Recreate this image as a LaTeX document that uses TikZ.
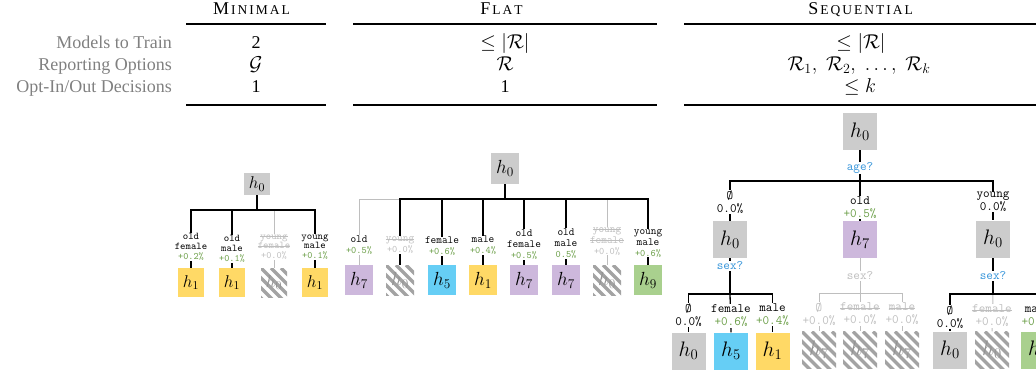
\RequirePackage{fix-cm}
\documentclass[tikz,border=0pt]{standalone}
\usepackage{fontspec}
\setmainfont{Liberation Serif}
\usetikzlibrary{backgrounds}

\definecolor{boxgray}{RGB}{204,204,204}
\definecolor{boxyellow}{RGB}{255,217,102}
\definecolor{boxpurple}{RGB}{205,184,220}
\definecolor{boxblue}{RGB}{102,206,245}
\definecolor{boxgreen}{RGB}{169,208,142}
\definecolor{gaingreen}{RGB}{106,158,70}
\definecolor{askblue}{RGB}{52,148,218}
\definecolor{offgray}{RGB}{190,190,190}
\definecolor{rowgray}{RGB}{128,128,128}

% struck-through word
\newcommand{\strk}[1]{\leavevmode\setbox0\hbox{#1}\rlap{\rule[0.22em]{\wd0}{0.5pt}}\box0}
% letter-spaced small capitals
\def\tracked#1{\ifx#1\relax\else\kern2pt#1\expandafter\tracked\fi}
\newcommand{\capsc}[2]{{\fontsize{18}{18}\selectfont #1}{\fontsize{13.5}{18}\selectfont\tracked#2\relax}}
% accuracy gains
\newcommand{\gainm}[1]{{\fontsize{9.8}{9.8}\selectfont\color{gaingreen}#1}}
\newcommand{\gainf}[1]{{\fontsize{9.9}{10.5}\selectfont\color{gaingreen}#1}}
\newcommand{\gains}[1]{{\color{gaingreen}#1}}

\tikzset{
  rule/.style={line width=1.2pt},
  head/.style={anchor=base, inner sep=0pt},
  rowname/.style={anchor=base east, inner sep=0pt, text=rowgray, font=\fontsize{18}{21}\selectfont},
  cell/.style={anchor=base, inner sep=0pt, font=\fontsize{18}{21}\selectfont},
  mcell/.style={anchor=base, inner sep=0pt, font=\fontsize{20}{22}\selectfont},
  mtile/.style={inner sep=0pt, minimum width=26pt, minimum height=29pt, font=\fontsize{17}{17}\selectfont},
  mtop/.style={mtile, minimum height=22pt},
  ftile/.style={inner sep=0pt, minimum width=28pt, minimum height=30pt, font=\fontsize{19}{19}\selectfont},
  stile/.style={inner sep=0pt, minimum width=34pt, minimum height=37pt, font=\fontsize{21}{21}\selectfont},
  hatched/.style={fill=white, text=gray!85, path picture={
      \foreach \k in {-7,...,7}
        \draw[line width=3.3pt, gray!72]
          ([xshift=\k*10pt]path picture bounding box.north west) -- ++(60pt,-60pt);
    }},
  tag/.style={fill=white, inner sep=0.6pt, align=center},
  mtag/.style={tag, font=\ttfamily\fontsize{10.3}{9.8}\selectfont},
  ftag/.style={tag, font=\ttfamily\fontsize{11}{11}\selectfont},
  stag/.style={tag, font=\ttfamily\fontsize{12.8}{13}\selectfont},
  ask/.style={fill=white, inner sep=1pt, text=askblue, font=\ttfamily\fontsize{12.8}{13}\selectfont},
  link/.style={line width=1.3pt},
  offlink/.style={line width=1pt, offgray},
}

\begin{document}
\begin{tikzpicture}[x=1pt,y=-1pt]
\useasboundingbox (0,0) rectangle (1036,377);

% ---------- summary table ----------
\node[head] (hmin) at (251.5,15) {\capsc{M}{INIMAL}};
\node[head] (hflat) at (501.5,15) {\capsc{F}{LAT}};
\node[head] (hseq) at (860.5,15) {\capsc{S}{EQUENTIAL}};
\draw[rule] (186,24) -- (326,24);
\draw[rule] (353,24) -- (657,24);
\draw[rule] (684,24) -- (1040,24);
\draw[rule] (186,105) -- (326,105);
\draw[rule] (353,105) -- (657,105);
\draw[rule] (684,105) -- (1040,105);

\node[rowname] (r1) at (172,48.5) {Models to Train};
\node[rowname] (r2) at (172,70.5) {Reporting Options};
\node[rowname] (r3) at (172,92.5) {Opt-In/Out Decisions};

\node[cell] (a1) at (256,48.5) {2};
\node[mcell] (a2) at (256,70.5) {$\mathcal{G}$};
\node[cell] (a3) at (256,92.5) {1};
\node[mcell] (b1) at (505,48.5) {$\leq|\mathcal{R}|$};
\node[mcell] (b2) at (505,70.5) {$\mathcal{R}$};
\node[cell] (b3) at (505,92.5) {1};
\node[mcell] (c1) at (861,48.5) {$\leq|\mathcal{R}|$};
\node[mcell] (c2) at (859,70.5) {$\mathcal{R}_1,\;\mathcal{R}_2,\;\ldots,\;\mathcal{R}_k$};
\node[mcell] (c3) at (860,92.5) {$\leq k$};

% ---------- minimal ----------
\node[mtop, fill=boxgray] (m0) at (257,184) {$h_0$};
\coordinate (mb) at (257,210);
\node[mtile, fill=boxyellow] (m1) at (191,282.5) {$h_1$};
\node[mtile, fill=boxyellow] (m2) at (232,282.5) {$h_1$};
\node[mtile, hatched] (m3) at (274,282.5) {$h_0$};
\node[mtile, fill=boxyellow] (m4) at (315,282.5) {$h_1$};
\node[mtag] (mt1) at (191,247) {old\\female\\\gainm{+0.2\%}};
\node[mtag] (mt2) at (232,249) {old\\male\\\gainm{+0.1\%}};
\node[mtag, text=offgray] (mt3) at (274,247) {\strk{young}\\\strk{female}\\\gainm{\color{offgray}+0.0\%}};
\node[mtag] (mt4) at (315,247) {young\\male\\\gainm{+0.1\%}};

% ---------- flat ----------
\node[ftile, fill=boxgray] (f0) at (505,168.5) {$h_0$};
\coordinate (fb) at (505,199);
\node[ftile, fill=boxpurple] (f1) at (359,280) {$h_7$};
\node[ftile, hatched] (f2) at (400,280) {$h_0$};
\node[ftile, fill=boxblue] (f3) at (442,280) {$h_5$};
\node[ftile, fill=boxyellow] (f4) at (483,280) {$h_1$};
\node[ftile, fill=boxpurple] (f5) at (524,280) {$h_7$};
\node[ftile, fill=boxpurple] (f6) at (566,280) {$h_7$};
\node[ftile, hatched] (f7) at (607,280) {$h_0$};
\node[ftile, fill=boxgreen] (f8) at (648,280) {$h_9$};
\node[ftag] (ft1) at (359,245) {old\\\gainf{+0.5\%}};
\node[ftag, text=offgray] (ft2) at (400,245) {\strk{young}\\\gainf{\color{offgray}+0.0\%}};
\node[ftag] (ft3) at (442,246.5) {female\\\gainf{+0.6\%}};
\node[ftag] (ft4) at (483,245.5) {male\\\gainf{+0.4\%}};
\node[ftag] (ft5) at (524,244.5) {old\\female\\\gainf{+0.5\%}};
\node[ftag] (ft6) at (566,243.5) {old\\male\\\gainf{0.5\%}};
\node[ftag, text=offgray] (ft7) at (607,241) {\strk{young}\\\strk{female}\\\gainf{\color{offgray}+0.0\%}};
\node[ftag] (ft8) at (648,243) {young\\male\\\gainf{+0.6\%}};

% ---------- sequential ----------
\node[stile, fill=boxgray] (s0) at (860,131.5) {$h_0$};
\node[ask] (q0) at (860,168) {age?};
\coordinate (sb) at (860,181);
\node[stile, fill=boxgray] (s1) at (730,239.5) {$h_0$};
\node[stile, fill=boxpurple] (s2) at (860,239.5) {$h_7$};
\node[stile, fill=boxgray] (s3) at (993,239) {$h_0$};
\node[stag] (st1) at (730,202) {Ø\\0.0\%};
\node[stag] (st2) at (860,207.5) {old\\\gains{+0.5\%}};
\node[stag] (st3) at (993,202) {young\\0.0\%};

% left branch: sex?
\node[ask] (q1) at (730,266) {sex?};
\coordinate (lb) at (730,294);
\node[stile, fill=boxgray] (l1) at (688.5,351) {$h_0$};
\node[stile, fill=boxblue] (l2) at (731,351) {$h_5$};
\node[stile, fill=boxyellow] (l3) at (772.5,351) {$h_1$};
\node[stag] (lt1) at (688.5,315) {Ø\\0.0\%};
\node[stag] (lt2) at (731,316) {female\\\gains{+0.6\%}};
\node[stag] (lt3) at (772.5,314.5) {male\\\gains{+0.4\%}};

% middle branch: sex? (switched off)
\node[ask, text=offgray] (q2) at (860,276) {sex?};
\coordinate (cb) at (860,293);
\node[stile, hatched] (c1n) at (819,350) {$h_7$};
\node[stile, hatched] (c2n) at (860,350) {$h_7$};
\node[stile, hatched] (c3n) at (902,350) {$h_7$};
\node[stag, text=offgray] (ct1) at (819,314) {Ø\\+0.0\%};
\node[stag, text=offgray] (ct2) at (860,314) {\strk{female}\\+0.0\%};
\node[stag, text=offgray] (ct3) at (902,314) {\strk{male}\\+0.0\%};

% right branch: sex?
\node[ask] (q3) at (993,276) {sex?};
\coordinate (rb) at (993,294);
\node[stile, fill=boxgray] (rr1) at (950,350) {$h_0$};
\node[stile, hatched] (rr2) at (992,350) {$h_0$};
\node[stile, fill=boxgreen] (rr3) at (1038,350) {$h_9$};
\node[stag] (rt1) at (950,317) {Ø\\0.0\%};
\node[stag, text=offgray] (rt2) at (992,316) {\strk{female}\\+0.0\%};
\node[stag] (rt3) at (1038,316) {male\\\gains{+0.6\%}};

% ---------- connectors ----------
\begin{scope}[on background layer]
  % minimal
  \draw[offlink] (mb) -| (m3.north);
  \draw[link] (m0.south) -- (mb) -| (m1.north);
  \draw[link] (mb) -| (m2.north);
  \draw[link] (mb) -| (m4.north);
  % flat
  \draw[offlink] (fb) -| (f1.north);
  \draw[offlink] (fb) -| (f7.north);
  \draw[link] (f0.south) -- (fb) -| (f2.north);
  \draw[link] (fb) -| (f3.north);
  \draw[link] (fb) -| (f4.north);
  \draw[link] (fb) -| (f5.north);
  \draw[link] (fb) -| (f6.north);
  \draw[link] (fb) -| (f8.north);
  % sequential
  \draw[link] (s0.south) -- (sb) -| (s1.north);
  \draw[link] (sb) -- (s2.north);
  \draw[link] (sb) -| (s3.north);
  \draw[link] (s1.south) -- (lb) -| (l1.north);
  \draw[link] (lb) -- (l2.north);
  \draw[link] (lb) -| (l3.north);
  \draw[offlink] (s2.south) -- (cb) -| (c1n.north);
  \draw[offlink] (cb) -- (c2n.north);
  \draw[offlink] (cb) -| (c3n.north);
  \draw[offlink] (rb) -- (rr2.north);
  \draw[link] (s3.south) -- (rb) -| (rr1.north);
  \draw[link] (rb) -| (rr3.north);
\end{scope}
\end{tikzpicture}
\end{document}
